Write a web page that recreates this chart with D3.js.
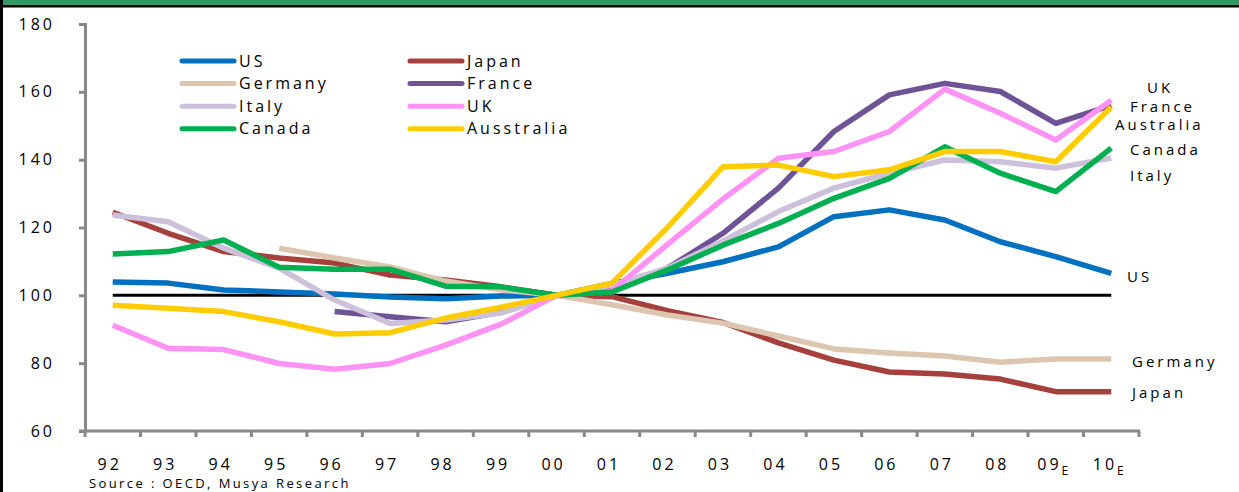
<!DOCTYPE html>
<html>
<head>
<meta charset="utf-8">
<script src="https://cdn.jsdelivr.net/npm/d3@7"></script>
<style>
  body { margin: 0; background: #fff; }
  svg { display: block; font-family: "Open Sans", "Noto Sans", sans-serif; }
  text { fill: #000; }
</style>
</head>
<body>
<div id="chart"></div>
<script>
const years = ["92","93","94","95","96","97","98","99","00","01","02","03","04","05","06","07","08","09","10"];
const estimated = ["09", "10"];
const yTicks = [60, 80, 100, 120, 140, 160, 180];

const us        = [103.9,103.6,101.6,101,100.4,99.5,99,99.8,100,103.5,106.5,109.9,114.3,123.2,125.2,122.2,115.8,111.4,106.5];
const japan     = [124.5,118.3,112.9,111,109.5,106,104.5,102.5,100,99.6,95.5,92,86,80.9,77.4,76.8,75.3,71.6,71.6];
const germany   = [null,null,null,113.9,111,108.4,104.2,101.6,100,97.2,94.2,91.8,88,84.2,83,82.1,80.3,81.2,81.2];
const france    = [null,null,null,null,95.2,93.7,92.2,95,100,102,108,118.3,131.6,148.3,159.1,162.5,160.1,150.7,156];
const italy     = [123.7,121.7,113.9,108,98.6,91.7,92.7,94.8,100,103,108,116,124.7,131.6,136,139.9,139.4,137.5,140.5];
const uk        = [91.2,84.4,84,79.9,78.2,79.9,85.3,91.5,100,101.3,115,128.4,140.4,142.4,148.3,160.8,153.7,145.8,157.5];
const canada    = [112.2,112.9,116.3,108.3,107.7,107.7,102.7,102.5,100,101,107.5,114.8,121.2,128.6,134.5,143.8,136,130.6,143.4];
const australia = [97.1,96.2,95.2,92.2,88.6,89,93.3,96.5,100,103.6,120,137.9,138.4,135,137,142.4,142.4,139.4,155.5];

const series = [
  { name: "US", values: us, color: "#0070C0" },
  { name: "Japan", values: japan, color: "#A5403D" },
  { name: "Germany", values: germany, color: "#DCC6B0" },
  { name: "France", values: france, color: "#6F5397" },
  { name: "Italy", values: italy, color: "#CCC0DA" },
  { name: "UK", values: uk, color: "#FF93F5" },
  { name: "Canada", values: canada, color: "#00B050" },
  { name: "Ausstralia", values: australia, color: "#FFCC00" },
];

// end-of-line labels: text and the value level they sit at
const endLabels = [
  { text: "UK", value: 161.2, dx: 34 },
  { text: "France", value: 155.6, dx: 17 },
  { text: "Australia", value: 150.3, dx: 2 },
  { text: "Canada", value: 143, dx: 17 },
  { text: "Italy", value: 135.3, dx: 17 },
  { text: "US", value: 105.4, dx: 14 },
  { text: "Germany", value: 80.3, dx: 19 },
  { text: "Japan", value: 71.2, dx: 19 },
];

const width = 1239, height = 492;
const plot = { left: 85, right: 1139, top: 24, bottom: 431 };

const svg = d3.select("#chart").append("svg")
  .attr("width", width).attr("height", height);

// header band and frame
svg.append("rect").attr("x", 0).attr("y", 0).attr("width", width).attr("height", 6).attr("fill", "#339966");
svg.append("rect").attr("x", 0).attr("y", 5).attr("width", width).attr("height", 2.5).attr("fill", "#000");
svg.append("rect").attr("x", 0).attr("y", 0).attr("width", 3).attr("height", height).attr("fill", "#000");

const x = d3.scaleBand().domain(years).range([plot.left, plot.right]).paddingInner(0).paddingOuter(0);
const y = d3.scaleLinear().domain([60, 180]).range([plot.bottom, plot.top]);
const cx = d => x(d) + x.bandwidth() / 2;

// y axis
const yAxis = svg.append("g").attr("transform", `translate(${plot.left},0)`)
  .call(d3.axisLeft(y).tickValues(yTicks).tickSize(6).tickPadding(24));
yAxis.select(".domain").attr("stroke", "#888").attr("stroke-width", 3);
yAxis.selectAll(".tick line").attr("stroke", "#888").attr("stroke-width", 3);
yAxis.selectAll(".tick text").attr("font-size", 16).attr("letter-spacing", 3)
  .style("font-family", "Open Sans, sans-serif").attr("fill", "#000");

// x axis with ticks between categories
const xg = svg.append("g").attr("transform", `translate(0,${plot.bottom})`);
xg.append("line").attr("x1", plot.left - 6).attr("x2", plot.right + 1)
  .attr("stroke", "#888").attr("stroke-width", 3);
xg.selectAll(".xt").data(years.concat(["end"])).join("line")
  .attr("class", "xt")
  .attr("x1", (d, i) => plot.left + i * x.bandwidth())
  .attr("x2", (d, i) => plot.left + i * x.bandwidth())
  .attr("y1", 0).attr("y2", 6)
  .attr("stroke", "#888").attr("stroke-width", 3);

const xl = xg.selectAll(".xl").data(years).join("text")
  .attr("class", "xl")
  .attr("x", d => cx(d) - 3)
  .attr("y", 39)
  .attr("text-anchor", "middle")
  .attr("font-size", 16)
  .attr("letter-spacing", 3);
xl.append("tspan").text(d => d);
xl.filter(d => estimated.includes(d)).append("tspan")
  .attr("font-size", 12).attr("dy", 5).attr("letter-spacing", 0).text("E");

// 100 baseline
svg.append("line")
  .attr("x1", cx(years[0])).attr("x2", cx(years[years.length - 1]))
  .attr("y1", y(100)).attr("y2", y(100))
  .attr("stroke", "#000").attr("stroke-width", 3);

// series lines
const line = d3.line()
  .defined(d => d.v != null)
  .x(d => cx(d.year))
  .y(d => y(d.v));

svg.append("g").selectAll("path").data(series).join("path")
  .attr("fill", "none")
  .attr("stroke", d => d.color)
  .attr("stroke-width", 5.5)
  .attr("stroke-linejoin", "round")
  .attr("d", d => line(d.values.map((v, i) => ({ year: years[i], v }))));

// legend
const legend = svg.append("g");
const lg = legend.selectAll("g").data(series).join("g")
  .attr("transform", (d, i) => `translate(${i % 2 === 0 ? 182 : 410},${61 + Math.floor(i / 2) * 22.6})`);
lg.append("line").attr("x1", 0).attr("x2", 52)
  .attr("stroke", d => d.color).attr("stroke-width", 5).attr("stroke-linecap", "round");
lg.append("text").attr("x", 57).attr("dy", "0.35em")
  .attr("font-size", 16).attr("letter-spacing", 3)
  .text(d => d.name);

// end labels
svg.append("g").selectAll("text").data(endLabels).join("text")
  .attr("x", d => plot.right - 26 + d.dx)
  .attr("y", d => y(d.value))
  .attr("dy", "0.35em")
  .attr("font-size", 15)
  .attr("letter-spacing", 3)
  .text(d => d.text);

// source
svg.append("text").attr("x", 89).attr("y", 488)
  .attr("font-size", 13).attr("letter-spacing", 2.4)
  .text("Source : OECD, Musya Research");
</script>
</body>
</html>
